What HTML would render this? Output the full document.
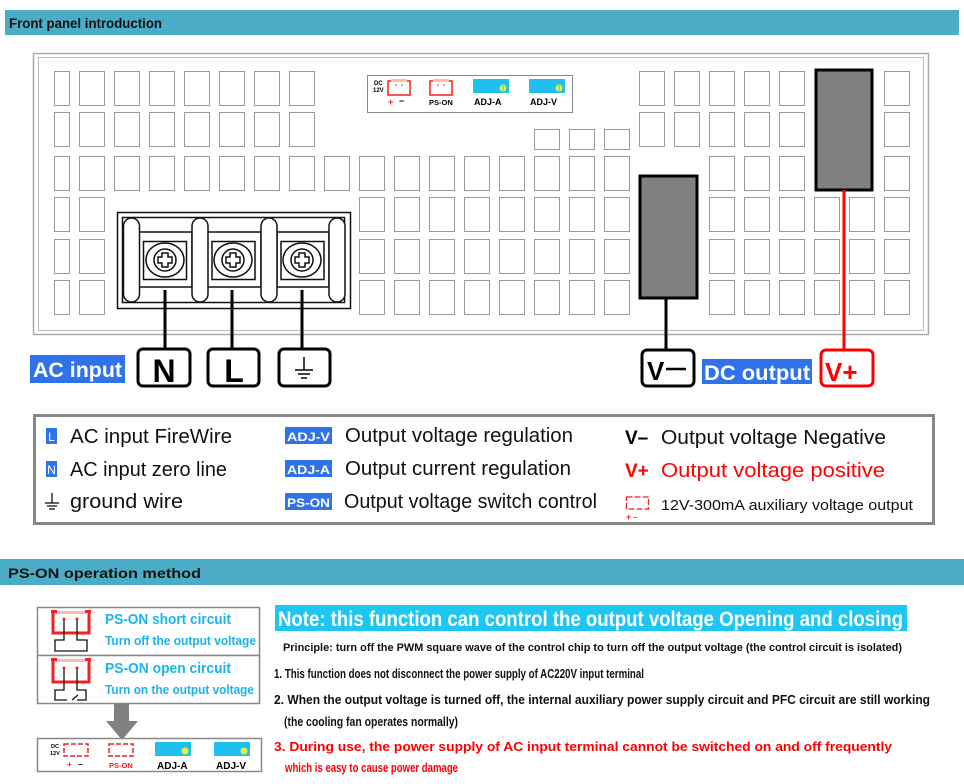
<!DOCTYPE html>
<html><head><meta charset="utf-8"><style>
html,body{margin:0;padding:0;background:#fff;}
svg{display:block;font-family:"Liberation Sans",sans-serif;}
</style></head><body>
<svg id="s" width="964" height="784" viewBox="0 0 964 784" xmlns="http://www.w3.org/2000/svg">
<rect x="0" y="0" width="964" height="784" fill="#fff"/>
<!-- header 1 -->
<rect x="5" y="10" width="954" height="25" fill="#4aacc7"/>
<text x="9" y="28" font-size="14" font-weight="bold" fill="#111" textLength="153" lengthAdjust="spacingAndGlyphs">Front panel introduction</text>
<!-- panel -->
<rect x="33.5" y="53.5" width="895" height="281" fill="#fff" stroke="#aaa" stroke-width="1.5"/>
<rect x="38.5" y="57.5" width="885" height="273" fill="none" stroke="#bbb" stroke-width="1"/>
<g id="cells" fill="#fff" stroke="#999" stroke-width="1"></g>
<!-- control box -->
<rect x="367.5" y="75.5" width="205" height="37" fill="#fff" stroke="#888" stroke-width="1"/>
<text x="374" y="85" font-size="6" font-weight="bold">DC</text>
<text x="373" y="92" font-size="6" font-weight="bold">12V</text>
<path d="M388 81 h22 v14 h-22 z" fill="none" stroke="#e22" stroke-width="1.5"/><rect x="391" y="79" width="16" height="3" fill="#f4c0a8"/>
<circle cx="396" cy="85" r="0.8" fill="#e22"/><circle cx="402" cy="85" r="0.8" fill="#e22"/>
<text x="388" y="105" font-size="9" font-weight="bold" fill="#e22">+</text><text x="399" y="104" font-size="9" font-weight="bold">−</text>
<path d="M430 81 h22 v14 h-22 z" fill="none" stroke="#e22" stroke-width="1.5"/><rect x="433" y="79" width="16" height="3" fill="#f4c0a8"/>
<circle cx="438" cy="85" r="0.8" fill="#e22"/><circle cx="444" cy="85" r="0.8" fill="#e22"/>
<text x="429" y="105" font-size="7.5" font-weight="bold">PS-ON</text>
<rect x="473" y="79" width="36" height="14" fill="#1fc0ef"/><circle cx="503" cy="88" r="3.5" fill="#ee3" /><line x1="503" y1="85" x2="503" y2="91" stroke="#1fc0ef" stroke-width="0.8"/>
<text x="474" y="105" font-size="9" font-weight="bold">ADJ-A</text>
<rect x="529" y="79" width="36" height="14" fill="#1fc0ef"/><circle cx="559" cy="88" r="3.5" fill="#ee3"/><line x1="559" y1="85" x2="559" y2="91" stroke="#1fc0ef" stroke-width="0.8"/>
<text x="530" y="105" font-size="9" font-weight="bold">ADJ-V</text>
<!-- output bars -->
<rect x="640" y="176" width="57" height="122" fill="#808080" stroke="#000" stroke-width="3"/>
<rect x="816" y="70" width="56" height="120" fill="#808080" stroke="#000" stroke-width="3"/>
<line x1="666" y1="298" x2="666" y2="350" stroke="#000" stroke-width="3"/>
<line x1="844" y1="190" x2="844" y2="350" stroke="#f00" stroke-width="3"/>
<!-- terminal block -->
<rect x="117.5" y="212.5" width="233" height="96" fill="#fff" stroke="#111" stroke-width="1.5"/>
<rect x="122.5" y="217.5" width="222" height="85" fill="#fff" stroke="#111" stroke-width="1.5"/>
<g fill="#fff" stroke="#111" stroke-width="1.5">
<rect x="139" y="232" width="53" height="55"/><rect x="207" y="232" width="54" height="55"/><rect x="277" y="232" width="52" height="55"/>
<rect x="143.5" y="241.5" width="43" height="38"/><rect x="212" y="241.5" width="43" height="38"/><rect x="281" y="241.5" width="43" height="38"/>
<rect x="123.5" y="218" width="16" height="84" rx="8"/><rect x="192" y="218" width="16" height="84" rx="8"/><rect x="261" y="218" width="16" height="84" rx="8"/><rect x="329" y="218" width="16" height="84" rx="8"/>
<ellipse cx="165" cy="260" rx="19" ry="17"/><ellipse cx="233" cy="260" rx="19" ry="17"/><ellipse cx="302" cy="260" rx="19" ry="17"/>
<circle cx="165" cy="260" r="11"/><circle cx="233" cy="260" r="11"/><circle cx="302" cy="260" r="11"/>
<path d="M162 253h6v4h4v6h-4v4h-6v-4h-4v-6h4z"/><path d="M230 253h6v4h4v6h-4v4h-6v-4h-4v-6h4z"/><path d="M299 253h6v4h4v6h-4v4h-6v-4h-4v-6h4z"/>
</g>
<g stroke="#000" stroke-width="3"><line x1="165" y1="290" x2="165" y2="350"/><line x1="232" y1="290" x2="232" y2="350"/><line x1="302" y1="290" x2="302" y2="350"/></g>
<!-- labels -->
<rect x="30" y="355" width="95" height="28" fill="#2f72ea"/>
<text x="33" y="377" font-size="21" font-weight="bold" fill="#fff" textLength="89" lengthAdjust="spacingAndGlyphs">AC input</text>
<g fill="#fff" stroke="#000" stroke-width="3">
<rect x="138" y="349" width="52" height="37" rx="5"/><rect x="208" y="349" width="51" height="37" rx="5"/><rect x="279" y="349" width="51" height="37" rx="5"/>
<rect x="642" y="350" width="52" height="36" rx="5"/></g>
<rect x="821" y="350" width="52" height="36" rx="5" fill="#fff" stroke="#f00" stroke-width="3"/>
<text x="164" y="382" font-size="32" font-weight="bold" text-anchor="middle">N</text>
<text x="234" y="382" font-size="32" font-weight="bold" text-anchor="middle">L</text>
<g stroke="#000" stroke-width="1.5"><line x1="304" y1="357" x2="304" y2="370"/><line x1="295" y1="370" x2="313" y2="370"/><line x1="298" y1="374" x2="310" y2="374"/><line x1="301" y1="378" x2="307" y2="378"/></g>
<text x="647" y="380" font-size="26" font-weight="bold">V</text><line x1="666" y1="369" x2="686" y2="369" stroke="#000" stroke-width="2.5"/>
<rect x="702" y="359" width="110" height="25" fill="#2f72ea"/>
<text x="704" y="380" font-size="21" font-weight="bold" fill="#fff" textLength="106" lengthAdjust="spacingAndGlyphs">DC output</text>
<text x="825" y="381" font-size="26" font-weight="bold" fill="#f00">V+</text>
<!-- legend -->
<rect x="34.5" y="415.5" width="899" height="108" fill="#fff" stroke="#888" stroke-width="3"/>
<rect x="46" y="428" width="11" height="16" fill="#2f72ea"/><text x="51.5" y="441" font-size="12" fill="#fff" text-anchor="middle">L</text>
<rect x="46" y="461" width="11" height="16" fill="#2f72ea"/><text x="51.5" y="474" font-size="12" fill="#fff" text-anchor="middle">N</text>
<g stroke="#000" stroke-width="1.2"><line x1="52" y1="493" x2="52" y2="503"/><line x1="45" y1="503" x2="59" y2="503"/><line x1="47" y1="506" x2="57" y2="506"/><line x1="49" y1="509" x2="55" y2="509"/></g>
<g font-size="20" fill="#111">
<text x="70" y="443" textLength="162" lengthAdjust="spacingAndGlyphs">AC input FireWire</text>
<text x="70" y="476" textLength="157" lengthAdjust="spacingAndGlyphs">AC input zero line</text>
<text x="70" y="508" textLength="113" lengthAdjust="spacingAndGlyphs">ground wire</text>
<text x="345" y="442" textLength="228" lengthAdjust="spacingAndGlyphs">Output voltage regulation</text>
<text x="345" y="475" textLength="226" lengthAdjust="spacingAndGlyphs">Output current regulation</text>
<text x="344" y="508" textLength="253" lengthAdjust="spacingAndGlyphs">Output voltage switch control</text>
<text x="661" y="444" textLength="225" lengthAdjust="spacingAndGlyphs">Output voltage Negative</text>
<text x="661" y="477" fill="#f00" textLength="224" lengthAdjust="spacingAndGlyphs">Output voltage positive</text>
</g>
<g fill="#2f72ea"><rect x="285" y="427" width="47" height="17"/><rect x="285" y="460" width="47" height="17"/><rect x="285" y="493" width="47" height="17"/></g>
<g font-size="12" font-weight="bold" fill="#fff">
<text x="287" y="441" textLength="43" lengthAdjust="spacingAndGlyphs">ADJ-V</text>
<text x="287" y="474" textLength="43" lengthAdjust="spacingAndGlyphs">ADJ-A</text>
<text x="287" y="507" textLength="43" lengthAdjust="spacingAndGlyphs">PS-ON</text></g>
<text x="625" y="444" font-size="19" font-weight="bold">V–</text>
<text x="625" y="477" font-size="19" font-weight="bold" fill="#f00">V+</text>
<path d="M626.5 497 h22 v12 h-22 z" fill="none" stroke="#e22" stroke-width="1.3" stroke-dasharray="6 2"/>
<text x="626" y="520" font-size="9" font-weight="bold" fill="#e22">+ -</text>
<text x="661" y="510" font-size="15" fill="#111" textLength="252" lengthAdjust="spacingAndGlyphs">12V-300mA auxiliary voltage output</text>
<!-- header 2 -->
<rect x="0" y="559" width="964" height="26" fill="#4aacc7"/>
<text x="8" y="578" font-size="14" font-weight="bold" fill="#111" textLength="193" lengthAdjust="spacingAndGlyphs">PS-ON operation method</text>
<!-- left bottom diagrams -->
<rect x="37.5" y="607.5" width="222" height="48" fill="#fff" stroke="#888" stroke-width="1.5"/>
<rect x="37.5" y="655.5" width="222" height="48" fill="#fff" stroke="#888" stroke-width="1.5"/>
<g fill="none" stroke="#e22" stroke-width="3"><path d="M53 612 v21 h36 v-21"/><path d="M53 661 v21 h36 v-21"/></g>
<rect x="54" y="611" width="34" height="3" fill="#f4c0a8"/><rect x="51" y="610" width="6" height="3" fill="#e22"/><rect x="85" y="610" width="6" height="3" fill="#e22"/>
<rect x="54" y="659" width="34" height="3" fill="#f4c0a8"/><rect x="51" y="658" width="6" height="3" fill="#e22"/><rect x="85" y="658" width="6" height="3" fill="#e22"/>
<g fill="none" stroke="#111" stroke-width="1.3">
<path d="M64 619 v21 h-9 v11 h32 v-11 h-10 v-21"/>
<path d="M64 668 v22 h-9 v10 h12 M72 700 l6 -5 M77 700 h9 v-10 h-9 v-22"/></g>
<g fill="#e22"><circle cx="64" cy="619" r="1.5"/><circle cx="77" cy="619" r="1.5"/><circle cx="64" cy="668" r="1.5"/><circle cx="77" cy="668" r="1.5"/></g>
<g font-weight="bold" fill="#1ab4ec">
<text x="105" y="624" font-size="15" textLength="126" lengthAdjust="spacingAndGlyphs">PS-ON short circuit</text>
<text x="105" y="645" font-size="13" textLength="151" lengthAdjust="spacingAndGlyphs">Turn off the output voltage</text>
<text x="105" y="673" font-size="15" textLength="126" lengthAdjust="spacingAndGlyphs">PS-ON open circuit</text>
<text x="105" y="694" font-size="13" textLength="149" lengthAdjust="spacingAndGlyphs">Turn on the output voltage</text></g>
<path d="M114 704 h15 v17 h9 l-16 19 l-16 -19 h8 z" fill="#808080"/>
<rect x="37.5" y="738.5" width="224" height="33" fill="#fff" stroke="#888" stroke-width="1.5"/>
<text x="51" y="748" font-size="5.5" font-weight="bold">DC</text><text x="50" y="755" font-size="5.5" font-weight="bold">12V</text>
<path d="M64 744 h24 v12 h-24 z" fill="none" stroke="#e22" stroke-width="1.5" stroke-dasharray="5 2"/>
<text x="67" y="767" font-size="8" font-weight="bold" fill="#e22">+</text><text x="78" y="767" font-size="8" font-weight="bold">−</text>
<path d="M109 744 h24 v12 h-24 z" fill="none" stroke="#e22" stroke-width="1.5" stroke-dasharray="5 2"/>
<text x="109" y="768" font-size="7.5" font-weight="bold" fill="#e22">PS-ON</text>
<rect x="155" y="742" width="36" height="14" fill="#1fc0ef"/><circle cx="185" cy="751" r="3.5" fill="#ee3"/>
<rect x="214" y="742" width="36" height="14" fill="#1fc0ef"/><circle cx="244" cy="751" r="3.5" fill="#ee3"/>
<text x="157" y="769" font-size="10" font-weight="bold">ADJ-A</text><text x="216" y="769" font-size="10" font-weight="bold">ADJ-V</text>
<!-- note -->
<rect x="275" y="605" width="632" height="26" fill="#1ec6f2"/>
<text x="278" y="626" font-size="21" font-weight="bold" fill="#fff" textLength="625" lengthAdjust="spacingAndGlyphs">Note: this function can control the output voltage Opening and closing</text>
<g font-weight="bold" fill="#111">
<text x="283" y="651" font-size="11" textLength="619" lengthAdjust="spacingAndGlyphs">Principle: turn off the PWM square wave of the control chip to turn off the output voltage  (the control circuit is isolated)</text>
<text x="274" y="678" font-size="13" textLength="370" lengthAdjust="spacingAndGlyphs">1. This function does not disconnect the power supply of AC220V input terminal</text>
<text x="274" y="704" font-size="13" textLength="656" lengthAdjust="spacingAndGlyphs">2. When the output voltage is turned off, the internal auxiliary power supply circuit and PFC circuit are still working</text>
<text x="284" y="726" font-size="13" textLength="174" lengthAdjust="spacingAndGlyphs">(the cooling fan operates normally)</text>
<text x="274" y="751" font-size="13" fill="#f00" textLength="618" lengthAdjust="spacingAndGlyphs">3. During use, the power supply of AC input terminal cannot be switched on and off frequently</text>
<text x="285" y="772" font-size="13" fill="#f00" textLength="173" lengthAdjust="spacingAndGlyphs">which is easy to cause power damage</text>
</g>
</svg>
<script>
(function(){
var g=document.getElementById('cells'),ns='http://www.w3.org/2000/svg';
function cx(i){if(i==0)return 54;if(i<=16)return 79+35*(i-1);return 639+35*(i-17);}
function cw(i){return i==0?15:25;}
var rows=[71,112,156,197,239,280];
function add(x,y,w,h){var r=document.createElementNS(ns,'rect');r.setAttribute('x',x+.5);r.setAttribute('y',y+.5);r.setAttribute('width',w);r.setAttribute('height',h);g.appendChild(r);}
function cols(r){var a=[];
 if(r<2){for(var i=0;i<=7;i++)a.push(i);for(i=17;i<=21;i++)a.push(i);a.push(24);}
 else if(r==2){for(i=0;i<=16;i++)a.push(i);a.push(19,20,21,24);}
 else{a.push(0,1);for(i=9;i<=16;i++)a.push(i);for(i=19;i<=24;i++)a.push(i);}
 return a;}
for(var r=0;r<6;r++){cols(r).forEach(function(c){add(cx(c),rows[r],cw(c),34);});}
[14,15,16].forEach(function(c){add(cx(c),129,25,20);});
})();
</script>
</body></html>
